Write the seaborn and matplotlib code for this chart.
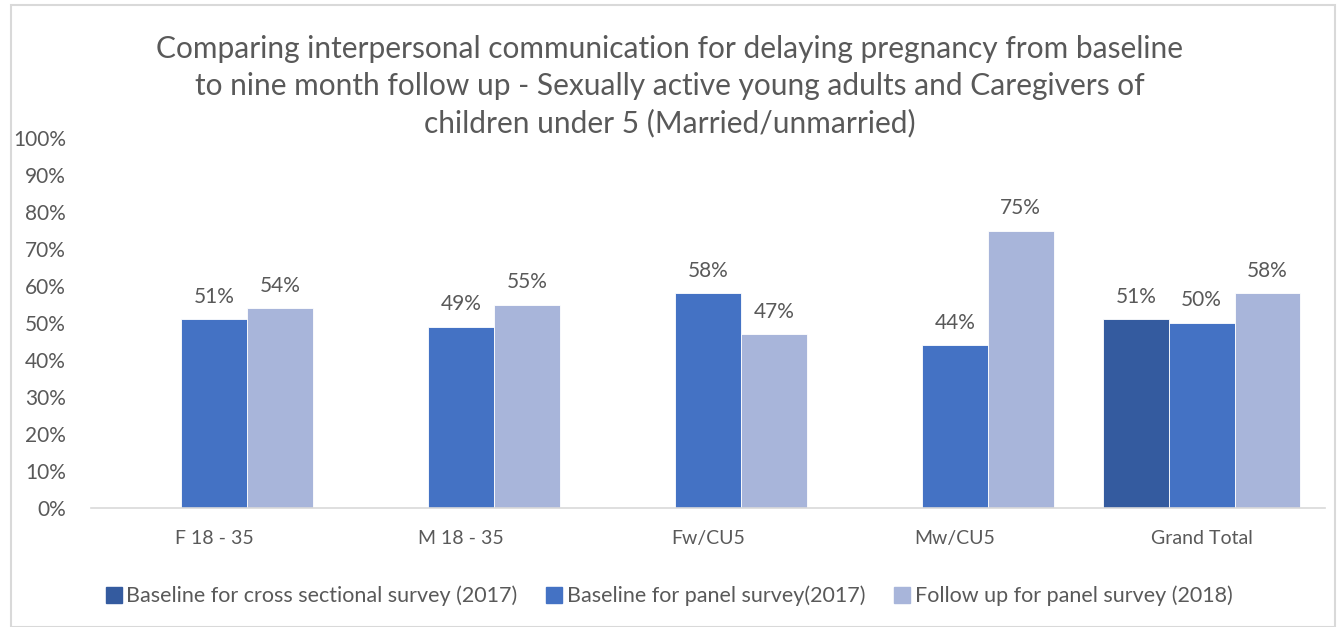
import matplotlib
matplotlib.use("Agg")
import matplotlib.pyplot as plt
import seaborn as sns
import pandas as pd
import numpy as np
from matplotlib.patches import Rectangle
from matplotlib.lines import Line2D

categories = ["F 18 - 35", "M 18 - 35", "Fw/CU5", "Mw/CU5", "Grand Total"]
series = [
    "Baseline for cross sectional survey (2017)",
    "Baseline for panel survey(2017)",
    "Follow up for panel survey (2018)",
]
cross_sectional_2017 = [np.nan, np.nan, np.nan, np.nan, 51]
panel_baseline_2017 = [51, 49, 58, 44, 50]
panel_followup_2018 = [54, 55, 47, 75, 58]
colors = ["#345B9F", "#4472C4", "#A8B5DA"]
yticks = list(range(0, 101, 10))

rows = []
for s, vals in zip(series, [cross_sectional_2017, panel_baseline_2017, panel_followup_2018]):
    for c, v in zip(categories, vals):
        rows.append({"category": c, "series": s, "value": v})
df = pd.DataFrame(rows)

sns.set_theme(style="white")
plt.rcParams["font.family"] = ["Lato", "DejaVu Sans"]
text_color = "#595959"

fig = plt.figure(figsize=(13.4, 6.27), dpi=100)
W, H = 1340, 627
ax = fig.add_axes([91 / W, 1 - 508 / H, (1325 - 91) / W, (508 - 138) / H])

sns.barplot(data=df, x="category", y="value", hue="series", hue_order=series,
            order=categories, palette=colors, saturation=1, width=0.8, gap=0, ax=ax,
            edgecolor="white", linewidth=0.6, legend=False, errorbar=None)

ax.set_ylim(0, 100)
ax.set_yticks(yticks)
ax.set_yticklabels([f"{t}%" for t in yticks], fontsize=15, color=text_color)
ax.set_xlim(-0.5, len(categories) - 0.5)
ax.tick_params(axis="x", labelsize=14, colors=text_color, length=0, pad=16)
ax.tick_params(axis="y", length=0, pad=18)
ax.set_xlabel("")
ax.set_ylabel("")
for side in ["top", "right", "left"]:
    ax.spines[side].set_visible(False)
ax.spines["bottom"].set_color("#D9D9D9")
ax.spines["bottom"].set_linewidth(1.2)

for container in ax.containers:
    labels = ["" if np.isnan(b.get_height()) else f"{b.get_height():.0f}%" for b in container]
    ax.bar_label(container, labels=labels, padding=9, fontsize=15, color=text_color)

fig.text(0.5, 1 - 86 / H,
         "Comparing interpersonal communication for delaying pregnancy from baseline\n"
         "to nine month follow up - Sexually active young adults and Caregivers of\n"
         "children under 5 (Married/unmarried)",
         ha="center", va="center", fontsize=21.5, color=text_color, linespacing=1.38)

handles = [Line2D([], [], marker="s", linestyle="", markersize=11, color=c) for c in colors]
fig.legend(handles, series, loc="center", bbox_to_anchor=(0.5, 1 - 596 / H), ncol=3,
           frameon=False, fontsize=15.5, handlelength=0.6, handletextpad=0.3,
           columnspacing=1.4, labelcolor=text_color)

fig.patches.append(Rectangle((11 / W, 0), (1335 - 11) / W, 1 - 5 / H, transform=fig.transFigure,
                             fill=False, edgecolor="#D9D9D9", linewidth=1.5))

fig.savefig("out.png", dpi=100)
